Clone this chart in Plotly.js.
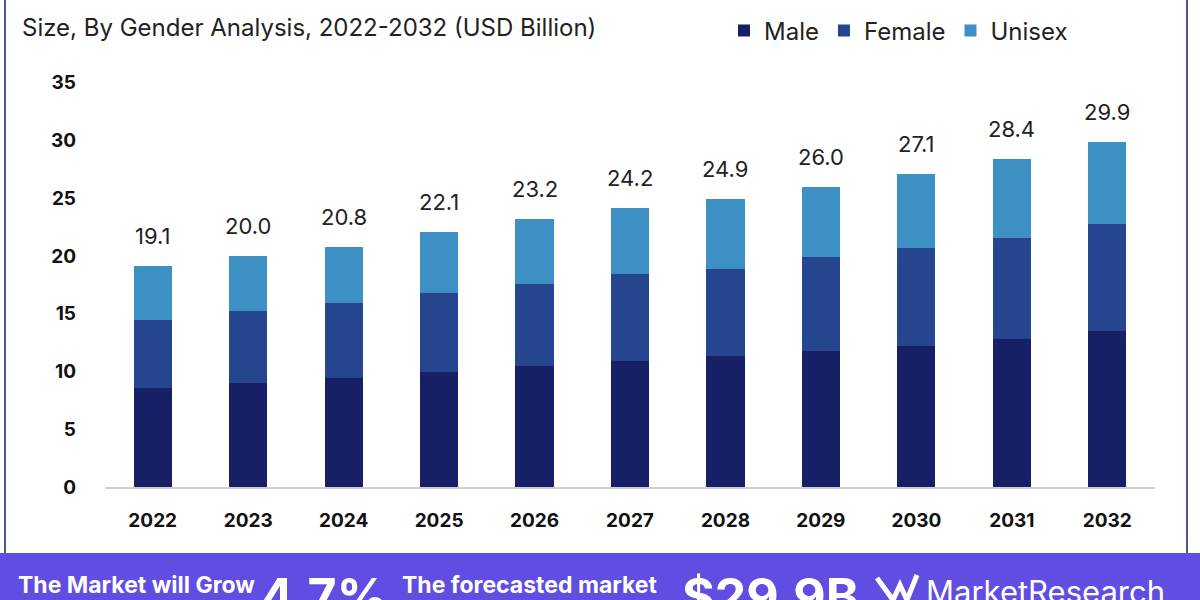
<!DOCTYPE html>
<html>
<head>
<meta charset="utf-8">
<script src="https://cdn.plot.ly/plotly-3.0.1.min.js"></script>
<style>html,body{margin:0;padding:0;background:#fff;}#chart{width:1200px;height:600px;}</style>
</head>
<body>
<div id="chart"></div>
<script>
const years = ['2022','2023','2024','2025','2026','2027','2028','2029','2030','2031','2032'];
const male = [8.6, 9.0, 9.4, 10.0, 10.5, 10.9, 11.3, 11.8, 12.2, 12.8, 13.5];
const female = [5.9, 6.2, 6.5, 6.8, 7.1, 7.5, 7.6, 8.1, 8.5, 8.8, 9.3];
const unisex = [4.6, 4.8, 4.9, 5.3, 5.6, 5.8, 6.0, 6.1, 6.4, 6.8, 7.1];
const totals = [19.1, 20.0, 20.8, 22.1, 23.2, 24.2, 24.9, 26.0, 27.1, 28.4, 29.9];
const yTicks = [0, 5, 10, 15, 20, 25, 30, 35];

const FONT = 'Inter, "Open Sans", sans-serif';
const colors = {male: '#172066', female: '#25458f', unisex: '#3c90c4'};

const traces = [
  {type: 'bar', name: 'Male', x: years, y: male, marker: {color: colors.male}, width: 0.4},
  {type: 'bar', name: 'Female', x: years, y: female, marker: {color: colors.female}, width: 0.4},
  {type: 'bar', name: 'Unisex', x: years, y: unisex, marker: {color: colors.unisex}, width: 0.4}
];

const W = 1200, H = 600, L = 105, R = 45, T = 77, B = 113;
const pw = W - L - R, ph = H - T - B;
const px = v => (v - L) / pw;
const py = v => (H - B - v) / ph;

const annotations = totals.map((t, i) => ({
  x: i, y: t, xref: 'x', yref: 'y', text: t.toFixed(1), showarrow: false,
  yanchor: 'bottom', yshift: 15, font: {family: FONT, size: 22, color: '#222'}
}));

annotations.push(
  {xref: 'paper', yref: 'paper', x: px(20), y: py(28), xanchor: 'left', yanchor: 'middle',
   text: 'Size, By Gender Analysis, 2022-2032 (USD Billion)', showarrow: false,
   font: {family: FONT, size: 24, color: '#222'}},
  {xref: 'paper', yref: 'paper', x: px(16), y: py(569), xanchor: 'left', yanchor: 'top',
   text: '<b>The Market will Grow</b>', showarrow: false, font: {family: FONT, size: 23, color: '#fff'}},
  {xref: 'paper', yref: 'paper', x: px(258), y: py(564), xanchor: 'left', yanchor: 'top',
   text: '<b>4.7%</b>', showarrow: false, font: {family: FONT, size: 50, color: '#fff'}},
  {xref: 'paper', yref: 'paper', x: px(400), y: py(569), xanchor: 'left', yanchor: 'top',
   text: '<b>The forecasted market</b>', showarrow: false, font: {family: FONT, size: 23, color: '#fff'}},
  {xref: 'paper', yref: 'paper', x: px(680), y: py(564), xanchor: 'left', yanchor: 'top',
   text: '<b>$29.9B</b>', showarrow: false, font: {family: FONT, size: 50, color: '#fff'}},
  {xref: 'paper', yref: 'paper', x: px(924), y: py(571), xanchor: 'left', yanchor: 'top',
   text: 'MarketResearch', showarrow: false, font: {family: FONT, size: 31, color: '#fff'}}
);

const shapes = [
  {type: 'rect', xref: 'paper', yref: 'paper', x0: px(0), x1: px(1200), y0: py(553), y1: py(605),
   fillcolor: '#604de2', line: {width: 0}, layer: 'below'},
  {type: 'line', xref: 'paper', yref: 'paper', x0: px(5), x1: px(5), y0: py(0), y1: py(553),
   line: {color: '#4a5a9c', width: 2}},
  {type: 'line', xref: 'paper', yref: 'paper', x0: px(1187), x1: px(1187), y0: py(0), y1: py(553),
   line: {color: '#4a5a9c', width: 2}},
  {type: 'path', xref: 'paper', yref: 'paper',
   path: `M ${px(877)} ${py(578)} L ${px(893)} ${py(600)} L ${px(900)} ${py(585)} L ${px(907)} ${py(600)} L ${px(917)} ${py(575)}`,
   line: {color: '#fff', width: 5}}
];

const layout = {
  width: W, height: H,
  margin: {l: L, r: R, t: T, b: B, autoexpand: false},
  paper_bgcolor: '#fff', plot_bgcolor: '#fff',
  barmode: 'stack',
  font: {family: FONT, color: '#111'},
  showlegend: true,
  legend: {orientation: 'h', x: px(724), y: py(31), xanchor: 'left', yanchor: 'middle',
           font: {family: FONT, size: 24, color: '#222'}, itemclick: false, traceorder: 'normal',
           bgcolor: 'rgba(0,0,0,0)'},
  xaxis: {type: 'category', range: [-0.5, 10.5], showgrid: false, zeroline: false,
          showline: true, linecolor: '#cfcfcf', linewidth: 1.5, ticks: '',
          tickfont: {family: FONT, size: 19, color: '#111', weight: 'bold'}, ticklabelstandoff: 16},
  yaxis: {range: [0, 35.5], tickvals: yTicks, ticktext: yTicks.map(String), showgrid: false,
          zeroline: false, showline: false, ticks: '',
          tickfont: {family: FONT, size: 19, color: '#111', weight: 'bold'}, ticklabelstandoff: 28},
  annotations: annotations,
  shapes: shapes
};

Plotly.newPlot('chart', traces, layout, {displayModeBar: false, staticPlot: true});
</script>
</body>
</html>
